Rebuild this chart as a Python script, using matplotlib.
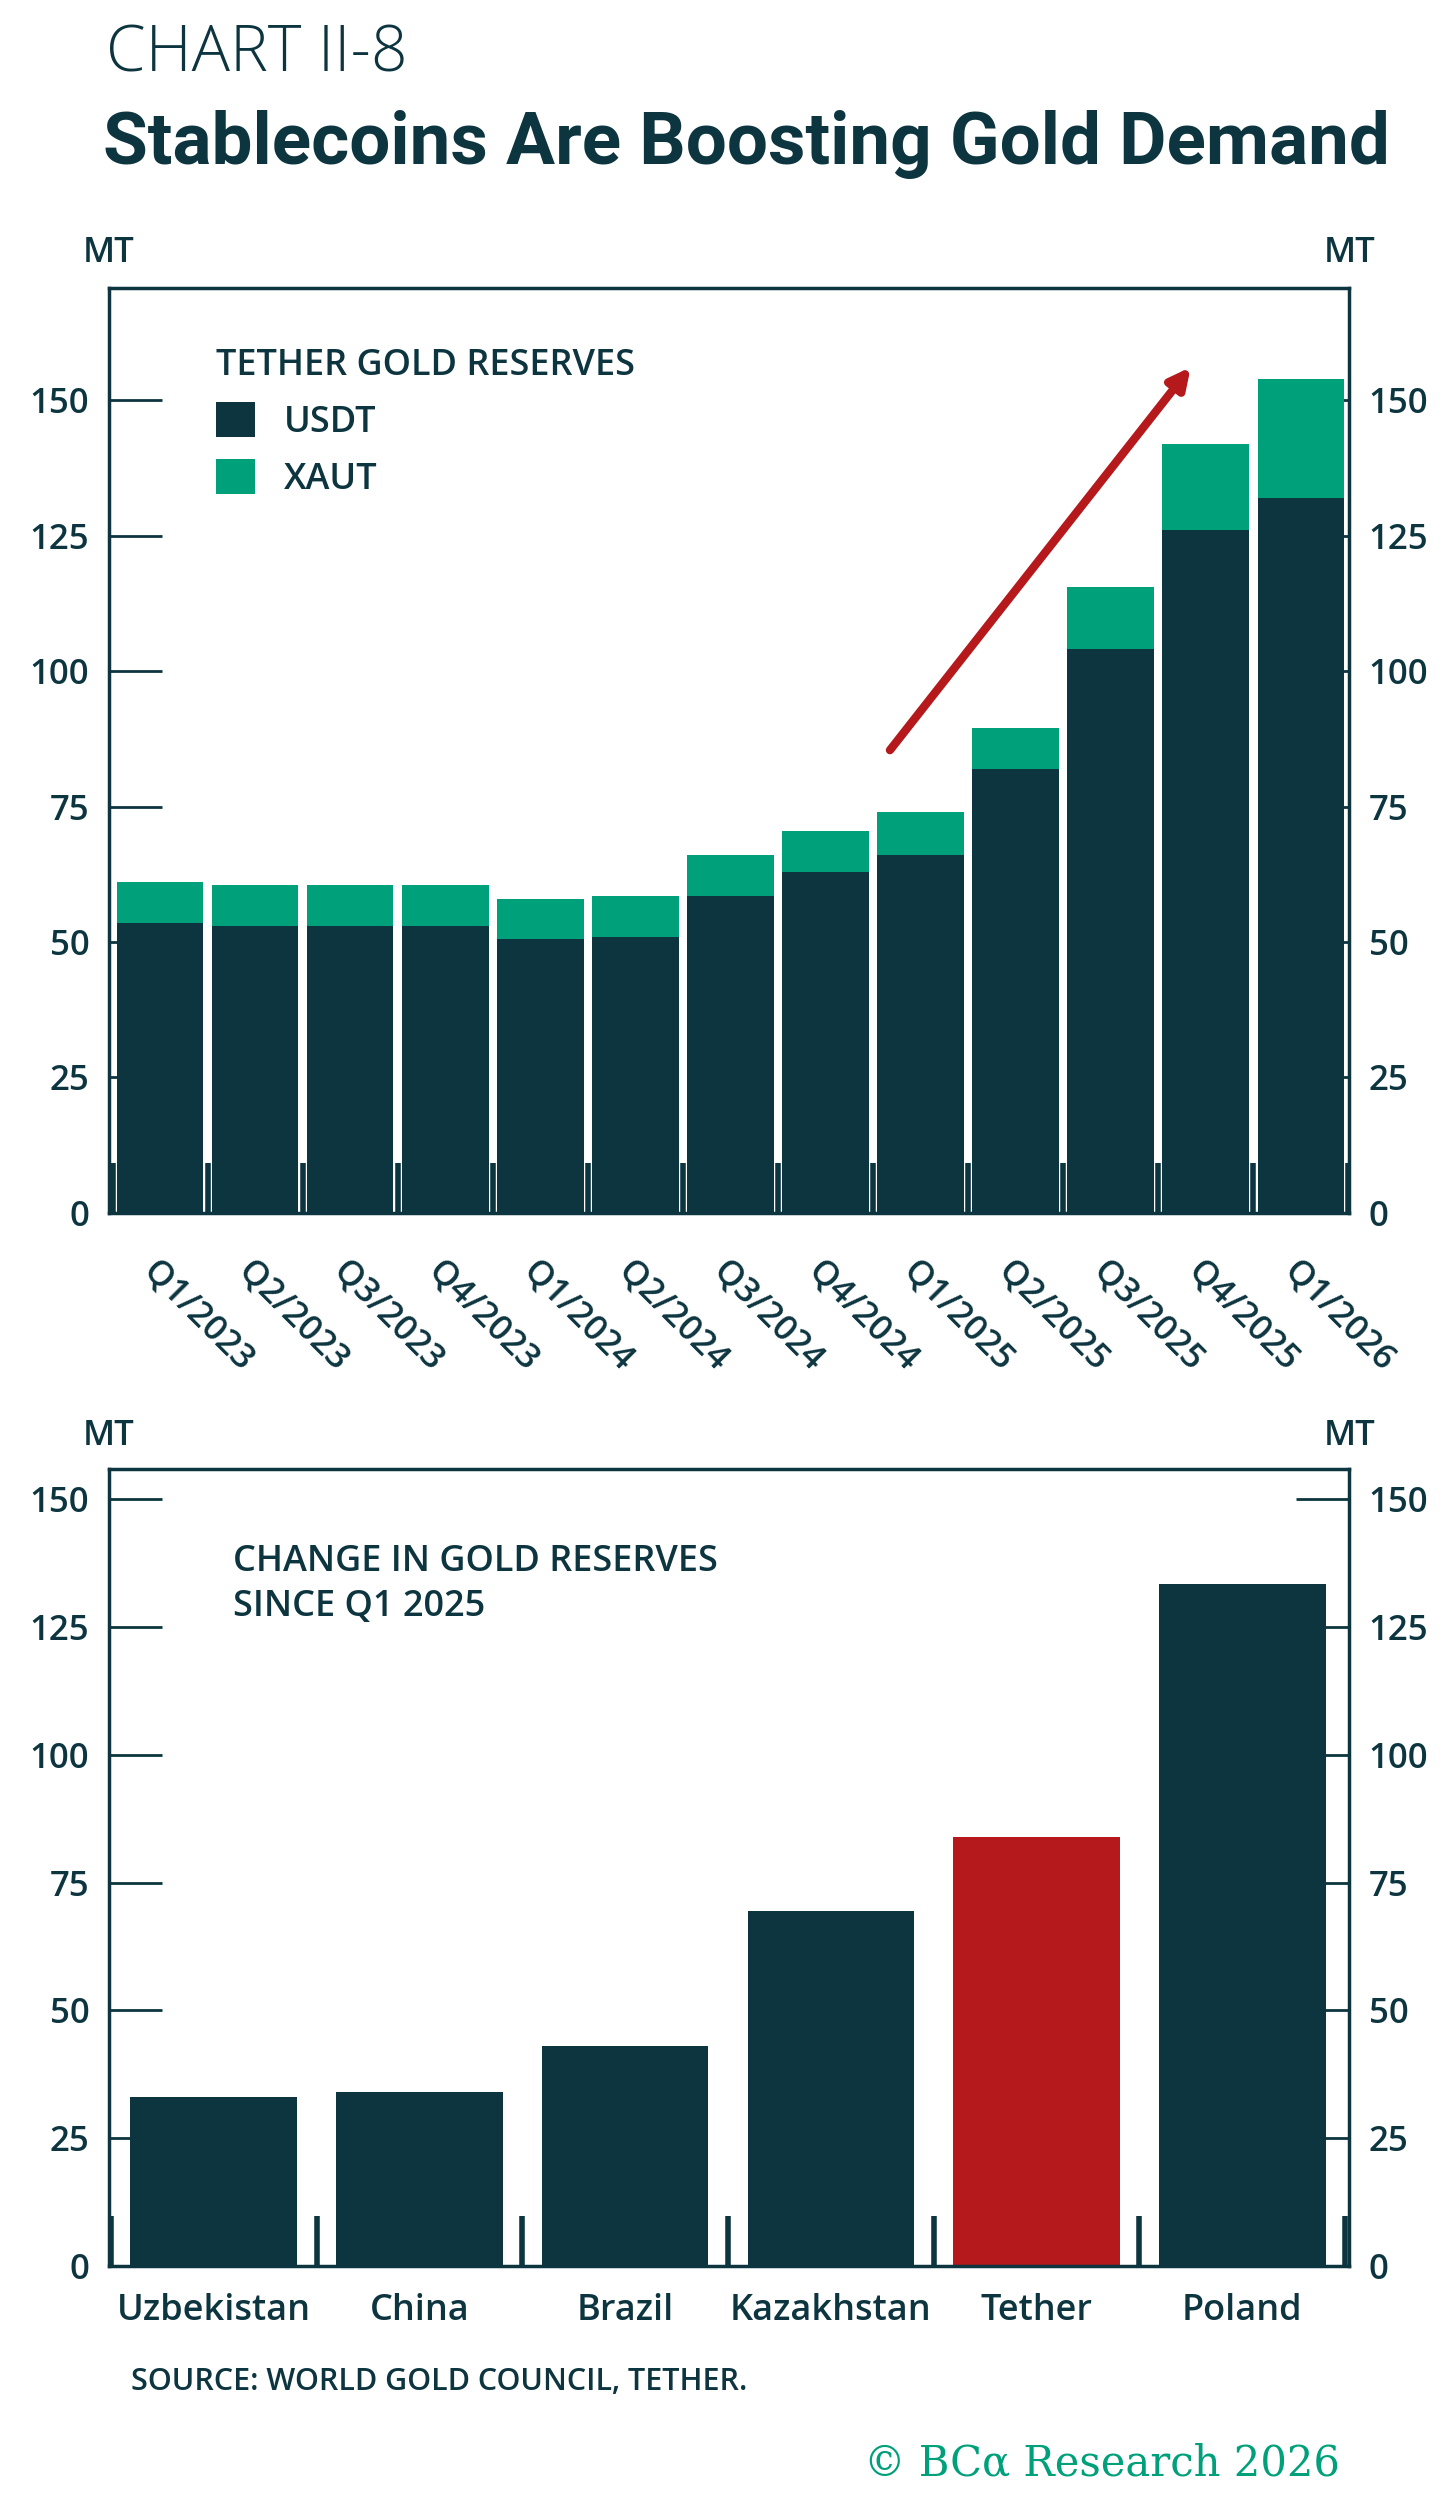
import matplotlib
matplotlib.use("Agg")
import matplotlib.pyplot as plt
import numpy as np

quarters = ["Q1/2023","Q2/2023","Q3/2023","Q4/2023","Q1/2024","Q2/2024","Q3/2024","Q4/2024","Q1/2025","Q2/2025","Q3/2025","Q4/2025","Q1/2026"]
usdt = [53.5,53,53,53,50.5,51,58.5,63,66,82,104,126,132]
xaut = [7.5,7.5,7.5,7.5,7.5,7.5,7.5,7.5,8,7.5,11.5,16,22]
countries = ["Uzbekistan","China","Brazil","Kazakhstan","Tether","Poland"]
change = [33,34,43,69.5,84,133.5]

DARK = "#0d3540"; GREEN = "#00a07a"; RED = "#b5191b"
plt.rcParams['font.family'] = ['Open Sans', 'DejaVu Sans']
plt.rcParams['font.weight'] = 'semibold'
fig = plt.figure(figsize=(14.56, 25.09), dpi=100)

def style(ax, ymax, xlim, minor):
    ax.set_ylim(0, ymax); ax.set_xlim(*xlim)
    for s in ax.spines.values():
        s.set_color(DARK); s.set_linewidth(2.5)
    ax.set_yticks([0,25,50,75,100,125,150])
    ax.tick_params(axis='y', direction='in', length=38, width=2, color=DARK,
                   labelsize=25, labelcolor=DARK, right=True, labelright=True, pad=14)
    ax.set_xticks(minor, minor=True)
    ax.tick_params(axis='x', which='minor', direction='in', length=36, width=4, color=DARK)
    ax.text(0, 1.02, "MT", transform=ax.transAxes, fontsize=25, color=DARK, ha='center', va='bottom')
    ax.text(1, 1.02, "MT", transform=ax.transAxes, fontsize=25, color=DARK, ha='center', va='bottom')

ax1 = fig.add_axes([0.0747, 0.5166, 0.852, 0.3686])
x = np.arange(len(quarters))
ax1.bar(x, usdt, width=0.91, color=DARK, label="USDT", zorder=2)
ax1.bar(x, xaut, bottom=usdt, width=0.91, color=GREEN, label="XAUT", zorder=2)
style(ax1, 170.7, (-0.54, 12.51), np.arange(-0.5, 13, 1))
ax1.set_xticks(x)
ax1.set_xticklabels(quarters, rotation=-45, ha='left', rotation_mode='anchor', fontsize=25, color=DARK)
ax1.tick_params(axis='x', which='major', length=0, pad=30)
ax1.annotate("", xy=(10.86, 156.5), xytext=(7.66, 85),
             arrowprops=dict(arrowstyle="-|>,head_length=1.2,head_width=0.6", color=RED, lw=6))
leg = ax1.legend(loc='upper left', bbox_to_anchor=(0.06, 0.97), frameon=False, fontsize=26,
                 title="TETHER GOLD RESERVES", title_fontsize=26, handlelength=1.1, handleheight=1.1,
                 labelcolor=DARK, alignment='left')
leg.get_title().set_color(DARK)

ax2 = fig.add_axes([0.0747, 0.097, 0.852, 0.3176])
x2 = np.arange(len(countries))
ax2.bar(x2, change, width=0.81, color=[RED if c == "Tether" else DARK for c in countries], zorder=2)
style(ax2, 156, (-0.51, 5.52), np.arange(-0.5, 6, 1))
ax2.set_xticks(x2)
ax2.set_xticklabels(countries, fontsize=26, color=DARK)
ax2.tick_params(axis='x', which='major', length=0, pad=20)
ax2.text(0.1, 0.905, "CHANGE IN GOLD RESERVES\nSINCE Q1 2025", transform=ax2.transAxes,
         fontsize=26, color=DARK, va='top', linespacing=1.3)

fig.text(0.073, 0.978, "CHART II-8", fontsize=46, color=DARK, va='center', weight='light')
fig.text(0.071, 0.9425, "Stablecoins Are Boosting Gold Demand", fontsize=52.5, weight='bold',
         color=DARK, va='center', family=['Roboto', 'DejaVu Sans'])
fig.text(0.09, 0.0505, "SOURCE: WORLD GOLD COUNCIL, TETHER.", fontsize=22, color=DARK, va='center')
fig.text(0.92, 0.018, "© BCα Research 2026", fontsize=30, color=GREEN, va='center', ha='right',
         family=['DejaVu Serif'], weight='normal')
fig.savefig("out.png", dpi=100)
